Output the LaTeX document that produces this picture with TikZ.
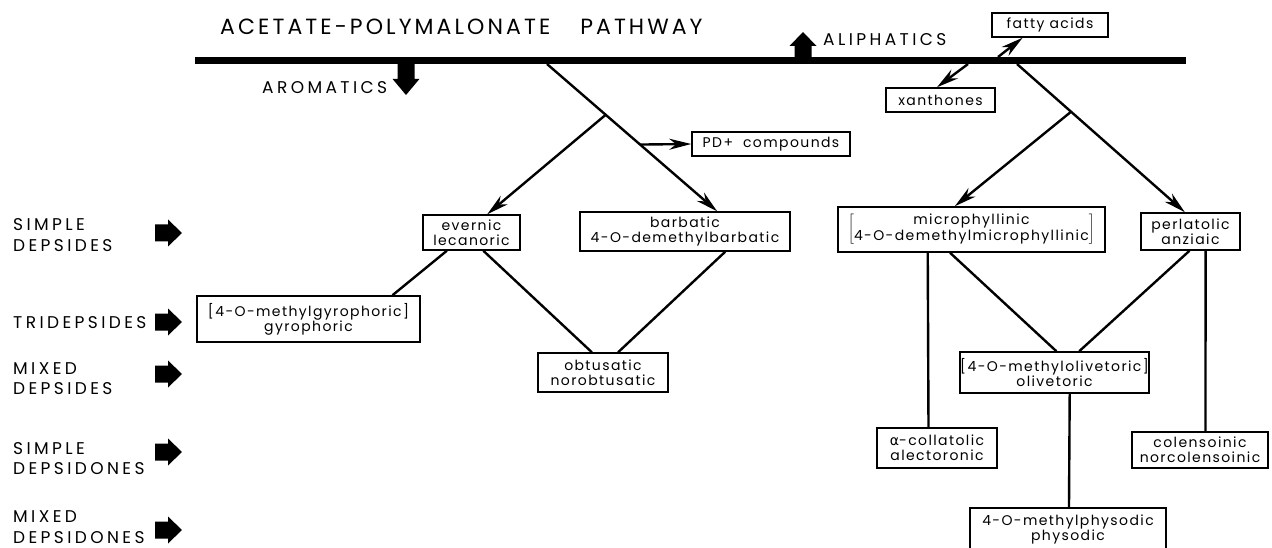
\documentclass[tikz,border=0pt]{standalone}
\usepackage{fontspec}
\setmainfont{Poppins}
\newfontfamily\lbl{Poppins}[LetterSpace=10]
\newfontfamily\capsfont{Poppins}[LetterSpace=20]
\newfontfamily\titlefont{Poppins}[LetterSpace=14]
\newfontfamily\dv{DejaVu Sans}
\usetikzlibrary{arrows.meta,calc}
\tikzset{
  box/.style={draw, line width=1.5pt, inner sep=0pt, align=center,
    font=\lbl\fontsize{14}{15}\selectfont},
  conn/.style={line width=2.4pt},
  arr/.style={conn, -{Stealth[length=22pt,width=11pt,inset=7pt]}},
  cat/.style={inner sep=0pt, align=left, anchor=west,
    font=\capsfont\fontsize{17}{20.5}\selectfont},
  blockarrow/.pic={\fill (-27,-8.5) -- (-14,-8.5) -- (-14,-13.5) -- (0,0) -- (-14,13.5) -- (-14,8.5) -- (-27,8.5) -- cycle;}
}
\begin{document}
\begin{tikzpicture}[x=1pt,y=-1pt]
\useasboundingbox (0,0) rectangle (1272,548);
% title and main bar
\node[inner sep=0pt, anchor=west, font=\titlefont\fontsize{22}{26}\selectfont] (title) at (220,27) {ACETATE-POLYMALONATE\hspace{30pt}PATHWAY};
\node[fill, inner sep=0pt, minimum width=991pt, minimum height=7pt] (bar) at (690.5,60.5) {};
% aromatics / aliphatics
\node[cat] (arom) at (262,88) {AROMATICS};
\pic[rotate=-90, xscale=1.15] at (406,95) {blockarrow};
\node[cat] (aliph) at (823,40) {ALIPHATICS};
\pic[rotate=90] at (803,32) {blockarrow};
% boxes
\node[box, minimum width=116pt, minimum height=24pt] (fatty) at (1050,25) {fatty acids};
\node[box, minimum width=109pt, minimum height=24pt] (xanth) at (940.5,100) {xanthones};
\node[box, minimum width=158pt, minimum height=24pt] (pd) at (771,144) {PD+\hspace{10pt}compounds};
\node[box, minimum width=97pt, minimum height=35pt] (evernic) at (471.5,232.5) {evernic\\lecanoric};
\node[box, minimum width=210pt, minimum height=39pt] (barb) at (685,231.5) {barbatic\\4-O-demethylbarbatic};
\node[box, minimum width=130pt, minimum height=39pt] (obtus) at (603,372.5) {obtusatic\\norobtusatic};
\node[box, minimum width=223pt, minimum height=46pt] (gyro) at (308.5,319) {[4-O-methylgyrophoric]\\gyrophoric};
\node[box, minimum width=267pt, minimum height=45pt] (micro) at (971.5,229.5) {$\left[\hbox{\begin{tabular}{@{}c@{}}microphyllinic\\4-O-demethylmicrophyllinic\end{tabular}}\right]$};
\node[box, minimum width=99pt, minimum height=37pt] (perl) at (1190.5,231.5) {perlatolic\\anziaic};
\node[box, minimum width=185pt, minimum height=41pt] (olive) at (1054.5,372.5) {[4-O-methylolivetoric]\\olivetoric};
\node[box, minimum width=120pt, minimum height=40pt] (colla) at (937,448) {{\dv α}-collatolic\\alectoronic};
\node[box, minimum width=136pt, minimum height=36pt] (colen) at (1200,450) {colensoinic\\norcolensoinic};
\node[box, minimum width=196pt, minimum height=42pt] (physo) at (1068,529) {4-O-methylphysodic\\physodic};
% connector start points on the bar
\coordinate (b1) at (547,64);
\coordinate (b2) at (1017,64);
\coordinate (bx) at (968,64);
\coordinate (bf) at (998,57);
% arrows
\draw[arr] (b1) -- ($(barb.north west)!0.652!(barb.north east)$) coordinate[pos=0.345] (j1) coordinate[pos=0.547] (jp);
\draw[arr] (j1) -- ($(evernic.north west)!0.66!(evernic.north east)$);
\draw[arr] (jp) -- (pd.west);
\draw[arr] (b2) -- ($(perl.north west)!0.444!(perl.north east)$) coordinate[pos=0.322] (j2);
\draw[arr] (j2) -- ($(micro.north west)!0.438!(micro.north east)$);
\draw[arr] (bx) -- ($(xanth.north west)!0.468!(xanth.north east)$);
\draw[arr] (bf) -- ($(fatty.south west)!0.267!(fatty.south east)$);
% plain connectors
\draw[conn] ($(evernic.south west)!0.25!(evernic.south east)$) -- ($(gyro.north west)!0.874!(gyro.north east)$);
\draw[conn] ($(evernic.south west)!0.62!(evernic.south east)$) -- ($(obtus.north west)!0.415!(obtus.north east)$);
\draw[conn] ($(barb.south west)!0.69!(barb.south east)$) -- ($(obtus.north west)!0.615!(obtus.north east)$);
\draw[conn] ($(micro.south west)!0.337!(micro.south east)$) -- ($(colla.north west)!0.43!(colla.north east)$);
\draw[conn] ($(micro.south west)!0.42!(micro.south east)$) -- ($(olive.north west)!0.51!(olive.north east)$);
\draw[conn] ($(perl.south west)!0.49!(perl.south east)$) -- ($(olive.north west)!0.63!(olive.north east)$);
\draw[conn] ($(perl.south west)!0.65!(perl.south east)$) -- ($(colen.north west)!0.54!(colen.north east)$);
\draw[conn] ($(olive.south west)!0.58!(olive.south east)$) -- ($(physo.north west)!0.505!(physo.north east)$);
% category labels
\node[cat] (c1) at (13,235) {SIMPLE\\DEPSIDES};
\node[cat] (c2) at (13,323) {TRIDEPSIDES};
\node[cat] (c3) at (13,378.5) {MIXED\\DEPSIDES};
\node[cat] (c4) at (13,458.5) {SIMPLE\\DEPSIDONES};
\node[cat] (c5) at (13,527) {MIXED\\DEPSIDONES};
\pic at (182,233) {blockarrow};
\pic at (182,322) {blockarrow};
\pic at (182,374) {blockarrow};
\pic at (182,452) {blockarrow};
\pic at (182,530) {blockarrow};
\end{tikzpicture}
\end{document}
